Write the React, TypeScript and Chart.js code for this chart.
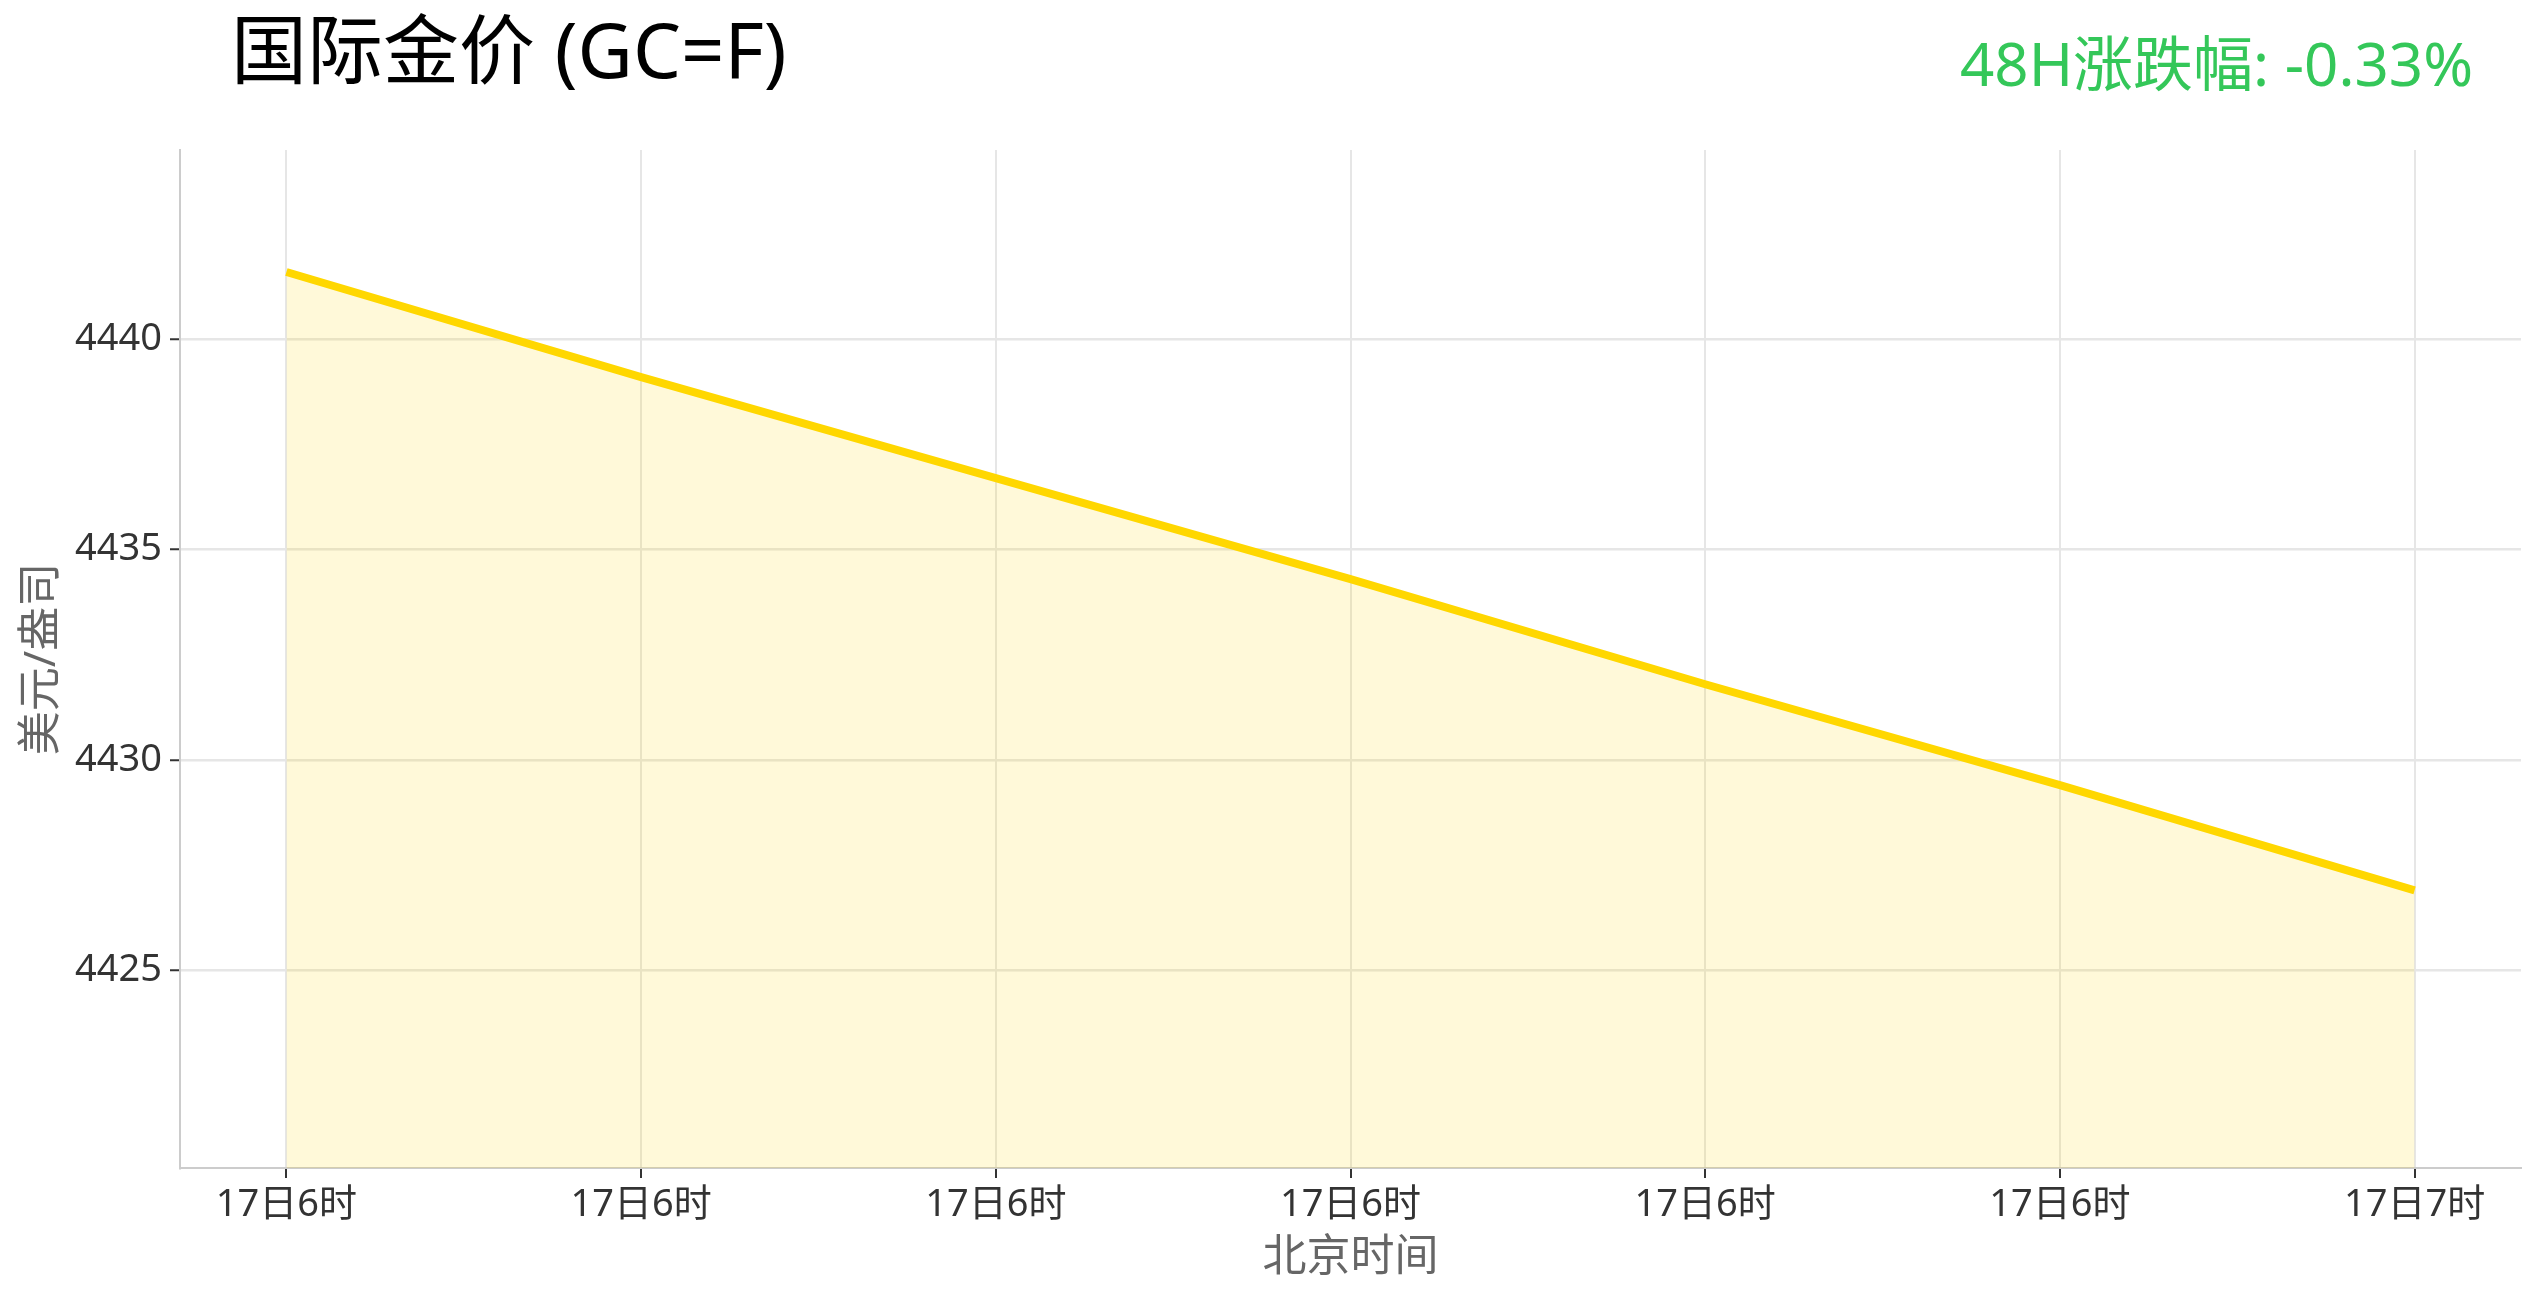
import { useEffect, useRef } from 'react';
import Chart from 'chart.js/auto';

// 17日 hourly points, international gold futures (GC=F)
const labels = ['17日6时', '17日6时', '17日6时', '17日6时', '17日6时', '17日6时', '17日7时'];
const prices = [4441.6, 4439.1, 4436.7, 4434.3, 4431.8, 4429.4, 4426.9];
const yTicks = [4425, 4430, 4435, 4440];

const FONT = '"Noto Sans", "Noto Sans CJK SC", sans-serif';

export default function App() {
    const canvasRef = useRef<HTMLCanvasElement | null>(null);

    useEffect(() => {
        document.body.style.margin = '0';
        if (!canvasRef.current) {
            return;
        }

        const chart = new Chart(canvasRef.current, {
            type: 'line',
            data: {
                datasets: [
                    {
                        label: '国际金价',
                        data: prices.map((y, i) => ({ x: i, y })),
                        borderColor: '#FFD700',
                        borderWidth: 8,
                        backgroundColor: 'rgba(255, 215, 0, 0.15)',
                        fill: 'start',
                        pointRadius: 0,
                        tension: 0,
                    },
                ],
            },
            options: {
                animation: false,
                responsive: true,
                maintainAspectRatio: false,
                layout: { padding: { top: 150, right: 20, left: 0, bottom: 0 } },
                plugins: {
                    legend: { display: false },
                    tooltip: { enabled: false },
                },
                scales: {
                    x: {
                        type: 'linear',
                        min: -0.3,
                        max: 6.3,
                        afterBuildTicks: (s: any) => { s.ticks = labels.map((_, i) => ({ value: i })); },
                        afterFit: (s: any) => { s.height = 134; },
                        ticks: {
                            callback: (v: any) => labels[v],
                            color: '#333',
                            font: { family: FONT, size: 38 },
                            autoSkip: false,
                            maxRotation: 0,
                            padding: 4,
                        },
                        grid: { color: '#e6e6e6', lineWidth: 2, tickLength: 10, tickColor: '#333', tickWidth: 2 },
                        border: { color: '#cccccc', width: 2 },
                        title: {
                            display: true,
                            text: '北京时间',
                            color: '#666',
                            font: { family: FONT, size: 44 },
                            padding: { top: 0, bottom: 17 },
                        },
                    },
                    y: {
                        min: 4420.3,
                        max: 4444.5,
                        afterBuildTicks: (s: any) => { s.ticks = yTicks.map((value) => ({ value })); },
                        afterFit: (s: any) => { s.width = 180; },
                        ticks: {
                            callback: (v: any) => String(v),
                            color: '#333',
                            font: { family: FONT, size: 38 },
                            padding: 8,
                        },
                        grid: { color: '#e6e6e6', lineWidth: 2.5, tickLength: 10, tickColor: '#333', tickWidth: 2 },
                        border: { color: '#cccccc', width: 2 },
                        title: {
                            display: true,
                            text: '美元/盎司',
                            color: '#666',
                            font: { family: FONT, size: 44 },
                            padding: { top: 16, bottom: 0 },
                        },
                    },
                },
            },
        });
        return () => chart.destroy();
    }, []);

    return (
        <div style={{ position: 'fixed', left: 0, top: 0, width: 2541, height: 1302, background: '#fff' }}>
            <div style={{ position: 'absolute', left: 231, top: 11, fontFamily: FONT, fontSize: 76, lineHeight: 1, color: '#000' }}>
                国际金价 (GC=F)
            </div>
            <div style={{ position: 'absolute', right: 68, top: 33, fontFamily: FONT, fontSize: 60, lineHeight: 1, color: '#34C759' }}>
                48H涨跌幅: -0.33%
            </div>
            <div style={{ position: 'absolute', inset: 0 }}>
                <canvas ref={canvasRef} />
            </div>
        </div>
    );
}
